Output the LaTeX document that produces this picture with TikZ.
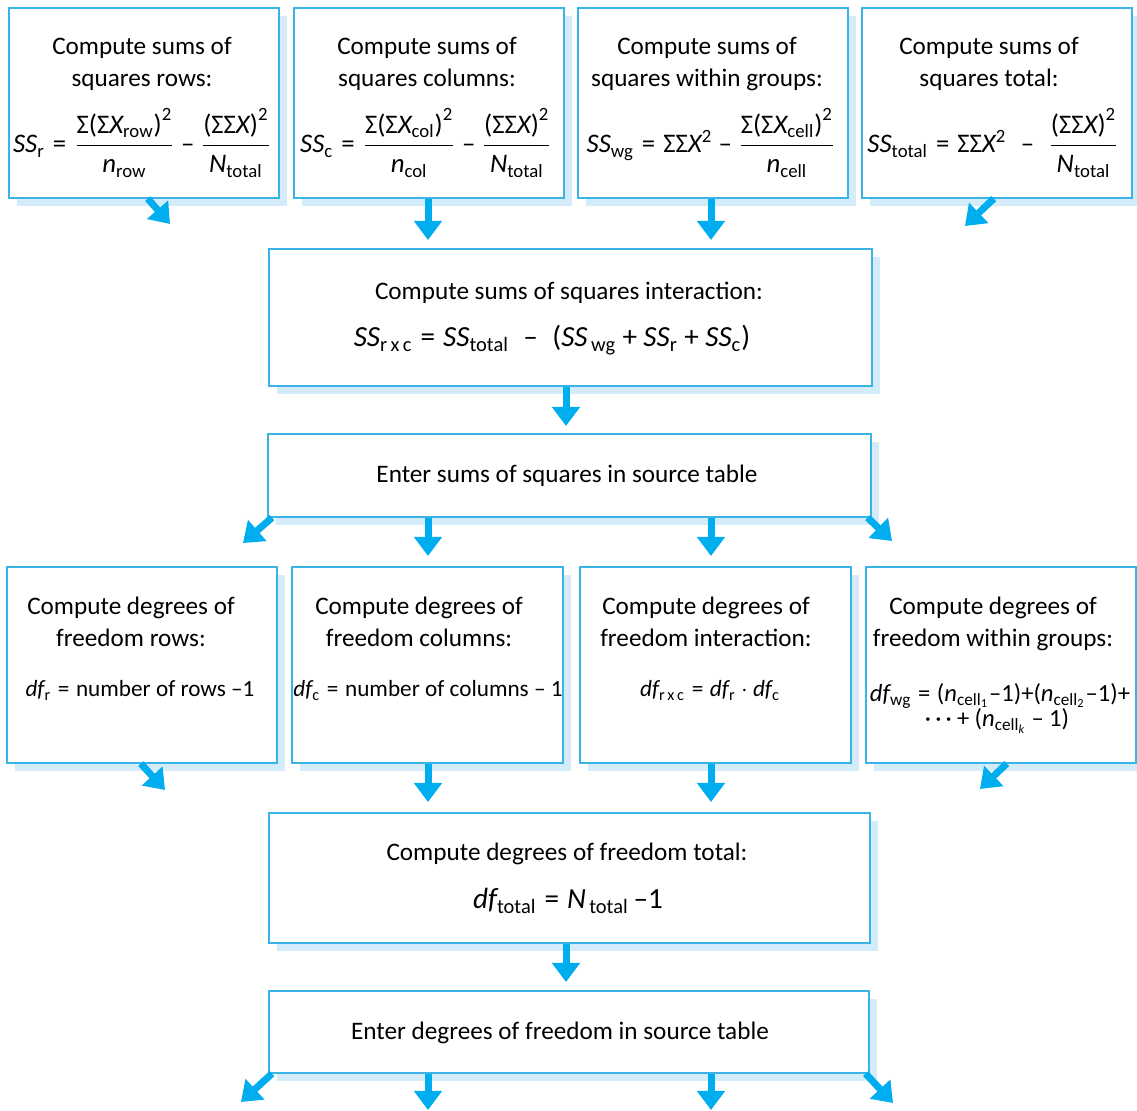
\documentclass[tikz,border=0pt]{standalone}
\usepackage{amsmath}
\usepackage{fontspec}
\setmainfont{Carlito}
\usetikzlibrary{arrows.meta,shadows}
\definecolor{boxc}{HTML}{3AB4E6}
\definecolor{arrc}{HTML}{00AEEF}
\definecolor{shc}{HTML}{D4ECF9}
\newcommand\I[1]{\text{\itshape #1}}
\newcommand\R[1]{\text{#1}}
\newcommand\Sg{\text{Σ}}
\newcommand\eq{\mathrel{\R{=}}}
\newcommand\mi{\mathbin{\R{–}}}
\tikzset{
  box/.style={draw=boxc, line width=0.8pt, fill=white, inner sep=0pt, anchor=north west,
    general shadow={fill=shc, shadow xshift=4pt, shadow yshift=-4pt}},
  arr/.style={draw=arrc, line width=3.5pt, -{Triangle[width=13.5pt,length=9.5pt]}},
  ttl/.style={inner sep=0pt, anchor=base, font=\fontsize{12.6}{14}\selectfont},
  fmla/.style={inner sep=0pt, anchor=base, font=\fontsize{13.4}{15}\selectfont},
  fml/.style={inner sep=0pt, anchor=base, font=\fontsize{11.6}{13}\selectfont},
  fmlw/.style={inner sep=0pt, anchor=base, font=\fontsize{12.3}{14}\selectfont},
  fmlb/.style={inner sep=0pt, anchor=base, font=\fontsize{14.6}{16}\selectfont},
}
\begin{document}
\begin{tikzpicture}[x=0.5pt,y=-0.5pt]
\useasboundingbox[fill=white] (0,0) rectangle (1137,1111);

% boxes
\node[box, minimum width=135pt, minimum height=95pt] (b1) at (8,7) {};
\node[box, minimum width=135pt, minimum height=95pt] (b2) at (293,7) {};
\node[box, minimum width=135pt, minimum height=95pt] (b3) at (577,7) {};
\node[box, minimum width=135pt, minimum height=95pt] (b4) at (861,7) {};
\node[box, minimum width=301.5pt, minimum height=68.5pt] (b5) at (268,248) {};
\node[box, minimum width=301.5pt, minimum height=41.5pt] (b6) at (267,433) {};
\node[box, minimum width=135pt, minimum height=98pt] (b7) at (6,566) {};
\node[box, minimum width=135.5pt, minimum height=98pt] (b8) at (291,566) {};
\node[box, minimum width=135.5pt, minimum height=98pt] (b9) at (579,566) {};
\node[box, minimum width=135pt, minimum height=98pt] (b10) at (865,566) {};
\node[box, minimum width=300.5pt, minimum height=65pt] (b11) at (268,812) {};
\node[box, minimum width=300pt, minimum height=41pt] (b12) at (268,990) {};

% row 1 texts
\node[ttl] (t1a) at (142,55) {Compute sums of};
\node[ttl] (t1b) at (142,87) {squares rows:};
\node[fmla] (f1) at (142,153) {$\I{SS}_{\R{r}}\eq\dfrac{\Sg\R{(}\Sg\I{X}_{\R{row}}\R{)}^{\R{2}}}{\I{n}_{\R{row}}}\mi\dfrac{\R{(}\Sg\Sg\I{X}\R{)}^{\R{2}}}{\I{N}_{\R{total}}}$};

\node[ttl] (t2a) at (427,55) {Compute sums of};
\node[ttl] (t2b) at (427,87) {squares columns:};
\node[fmla] (f2) at (426,153) {$\I{SS}_{\R{c}}\eq\dfrac{\Sg\R{(}\Sg\I{X}_{\R{col}}\R{)}^{\R{2}}}{\I{n}_{\R{col}}}\mi\dfrac{\R{(}\Sg\Sg\I{X}\R{)}^{\R{2}}}{\I{N}_{\R{total}}}$};

\node[ttl] (t3a) at (707,55) {Compute sums of};
\node[ttl] (t3b) at (707,87) {squares within groups:};
\node[fmla] (f3) at (711,153) {$\I{SS}_{\R{wg}}\eq\Sg\Sg\I{X}^{\R{2}}\mi\dfrac{\Sg\R{(}\Sg\I{X}_{\R{cell}}\R{)}^{\R{2}}}{\I{n}_{\R{cell}}}$};

\node[ttl] (t4a) at (989,55) {Compute sums of};
\node[ttl] (t4b) at (989,87) {squares total:};
\node[fmla] (f4) at (993,153) {$\I{SS}_{\R{total}}\eq\Sg\Sg\I{X}^{\R{2}}\;\mi\;\dfrac{\R{(}\Sg\Sg\I{X}\R{)}^{\R{2}}}{\I{N}_{\R{total}}}$};

% interaction
\node[ttl] (t5) at (569,300) {Compute sums of squares interaction:};
\node[fmlb] (f5) at (552,347) {$\I{SS}_{\R{r\,x\,c}}\eq\I{SS}_{\R{total}}\;\mi\;\R{(}\I{SS}_{\R{\,wg}}\mathbin{\R{+}}\I{SS}_{\R{r}}\mathbin{\R{+}}\I{SS}_{\R{c}}\R{)}$};

\node[ttl] (t6) at (567,483) {Enter sums of squares in source table};

% row 3
\node[ttl] (t7a) at (131,615) {Compute degrees of};
\node[ttl] (t7b) at (131,647) {freedom rows:};
\node[fml] (f7) at (140,697) {$\I{df}_{\R{r}}\eq\R{number of rows –1}$};

\node[ttl] (t8a) at (419,615) {Compute degrees of};
\node[ttl] (t8b) at (419,647) {freedom columns:};
\node[fml] (f8) at (428,697) {$\I{df}_{\R{c}}\eq\R{number of columns – 1}$};

\node[ttl] (t9a) at (706,615) {Compute degrees of};
\node[ttl] (t9b) at (706,647) {freedom interaction:};
\node[fml] (f9) at (710,697) {$\I{df}_{\R{r\,x\,c}}\eq\I{df}_{\R{r}}\cdot\I{df}_{\R{c}}$};

\node[ttl] (t10a) at (993,615) {Compute degrees of};
\node[ttl] (t10b) at (993,647) {freedom within groups:};
\node[fmlw] (f10a) at (1000,702) {$\I{df}_{\R{wg}}\eq\R{(}\I{n}_{\R{cell}_{\R{1}}}\R{–1)+(}\I{n}_{\R{cell}_{\R{2}}}\R{–1)+}$};
\node[fmlw] (f10b) at (997,727) {$\R{·\,·\,·}\mathbin{\R{+}}\R{(}\I{n}_{\R{cell}_{\I{k}}}\mi\R{1)}$};

% df total
\node[ttl] (t11) at (567,861) {Compute degrees of freedom total:};
\node[fmlb] (f11) at (568,909) {$\I{df}_{\R{total}}\eq\I{N}_{\R{\,total}}\,\R{–1}$};

\node[ttl] (t12) at (560,1040) {Enter degrees of freedom in source table};

% arrow tips
\coordinate (a1) at (170,224);
\coordinate (a2) at (428,240);
\coordinate (a3) at (711,240);
\coordinate (a4) at (965,226);
\coordinate (a5) at (566,426);
\coordinate (a6) at (243,543);
\coordinate (a7) at (428,556);
\coordinate (a8) at (711,556);
\coordinate (a9) at (892,541);
\coordinate (a10) at (165,790);
\coordinate (a11) at (428,802);
\coordinate (a12) at (711,802);
\coordinate (a13) at (980,789);
\coordinate (a14) at (566,982);
\coordinate (a15) at (241,1102);
\coordinate (a16) at (428,1110);
\coordinate (a17) at (711,1110);
\coordinate (a18) at (893,1103);

% arrows
\draw[arr] ([xshift=2pt]b1.south) -- (a1);
\draw[arr] (b2.south -| a2) -- (a2);
\draw[arr] (b3.south -| a3) -- (a3);
\draw[arr] ([xshift=-1.5pt]b4.south) -- (a4);
\draw[arr] (b5.south -| a5) -- (a5);
\draw[arr] ([xshift=2.5pt]b6.south west) -- (a6);
\draw[arr] (b6.south -| a7) -- (a7);
\draw[arr] (b6.south -| a8) -- (a8);
\draw[arr] ([xshift=-2pt]b6.south east) -- (a9);
\draw[arr] ([xshift=-0.5pt]b7.south) -- (a10);
\draw[arr] (b8.south -| a11) -- (a11);
\draw[arr] (b9.south -| a12) -- (a12);
\draw[arr] ([xshift=3pt]b10.south) -- (a13);
\draw[arr] (b11.south -| a14) -- (a14);
\draw[arr] ([xshift=2pt]b12.south west) -- (a15);
\draw[arr] (b12.south -| a16) -- (a16);
\draw[arr] (b12.south -| a17) -- (a17);
\draw[arr] ([xshift=-2pt]b12.south east) -- (a18);
\end{tikzpicture}
\end{document}
